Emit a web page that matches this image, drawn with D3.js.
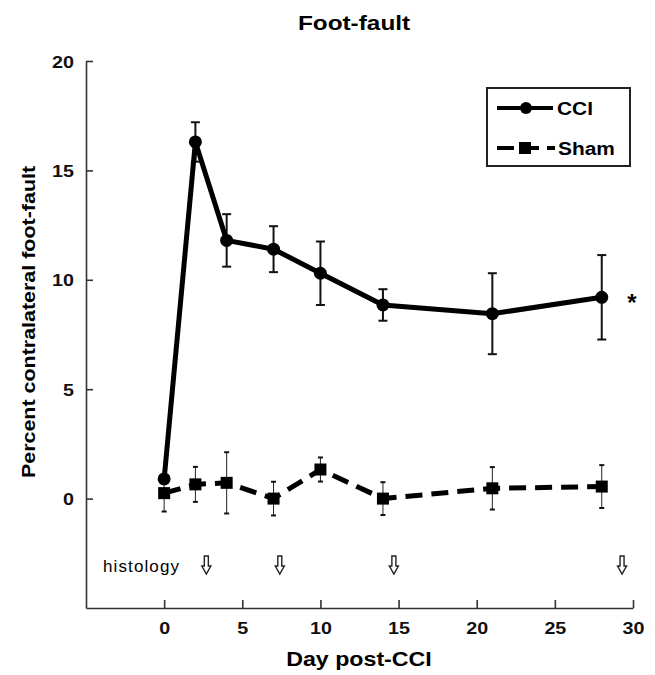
<!DOCTYPE html>
<html>
<head>
<meta charset="utf-8">
<script src="https://cdn.jsdelivr.net/npm/d3@7"></script>
<style>
  body { margin: 0; background: #fff; }
  text { font-family: "Liberation Sans", Arial, Helvetica, sans-serif; }
</style>
</head>
<body>
<div id="viz"><svg width="655" height="675"></svg></div>
<script>
// values
const days = [0, 2, 4, 7, 10, 14, 21, 28]
const cciMean = [0.9, 16.3, 11.8, 11.4, 10.3, 8.85, 8.45, 9.2]
const cciSem = [0, 0.9, 1.2, 1.05, 1.45, 0.72, 1.85, 1.93]
const shamMean = [0.25, 0.65, 0.72, 0.0, 1.33, 0.0, 0.47, 0.55]
const shamSem = [0.84, 0.8, 1.4, 0.77, 0.55, 0.75, 0.97, 0.98]
const histologyDays = [2.7, 7.4, 14.7, 29.3]
const xTicks = [0, 5, 10, 15, 20, 25, 30]
const yTicks = [0, 5, 10, 15, 20]

const cci = days.map((d, i) => ({day: d, mean: cciMean[i], sem: cciSem[i]}))
const sham = days.map((d, i) => ({day: d, mean: shamMean[i], sem: shamSem[i]}))

const SX = 1.16  // the original lettering is a bit wide
const svg = d3.select("#viz svg")

const x = d3.scaleLinear().domain([-5, 30]).range([86, 633])
const y = d3.scaleLinear().domain([-5, 20]).range([608, 61])

// axes
const yAxis = svg.append("g")
    .attr("transform", "translate(" + 86 + ",0)")
    .call(d3.axisLeft(y).tickValues(yTicks).tickSize(-7).tickSizeOuter(0))
const xAxis = svg.append("g")
    .attr("transform", "translate(0," + 608 + ")")
    .call(d3.axisBottom(x).tickValues(xTicks).tickSize(-8).tickSizeOuter(0))

svg.selectAll(".domain, .tick line").attr("stroke", "#333").attr("stroke-width", 1.6)
yAxis.selectAll(".tick text")
    .attr("x", 0).attr("dy", "0.36em")
    .attr("transform", "translate(-12,0) scale(" + SX + ",1)")
    .attr("font-size", 17).attr("font-weight", "bold").attr("fill", "#111")
xAxis.selectAll(".tick text")
    .attr("y", 0).attr("dy", 0)
    .attr("transform", "translate(0,26) scale(" + SX + ",1)")
    .attr("font-size", 17).attr("font-weight", "bold").attr("fill", "#111")

// titles
svg.append("text")
    .attr("transform", "translate(354,30) scale(" + SX + ",1)")
    .attr("text-anchor", "middle").attr("font-size", 21).attr("font-weight", "bold")
    .text("Foot-fault")
svg.append("text")
    .attr("transform", "translate(359,666) scale(" + SX + ",1)")
    .attr("text-anchor", "middle").attr("font-size", 20).attr("font-weight", "bold")
    .text("Day post-CCI")
svg.append("text")
    .attr("transform", "translate(35,322) rotate(-90) scale(" + SX + ",1)")
    .attr("text-anchor", "middle").attr("font-size", 18.5).attr("font-weight", "bold")
    .text("Percent contralateral foot-fault")

// histology markers
svg.append("text")
    .attr("x", 103).attr("y", 572)
    .attr("font-family", "'Open Sans', 'Noto Sans', sans-serif")
    .attr("font-size", 17).attr("textLength", 76)
    .text("histology")

svg.selectAll("path.arrow")
    .data(histologyDays)
    .enter()
    .append("path")
    .attr("class", "arrow")
    .attr("d", d => {
        const cx = x(d)
        return "M" + (cx - 2) + ",556 L" + (cx + 2) + ",556 L" + (cx + 2) + ",566 L" + (cx + 4.5) + ",566 L" +
            cx + ",574 L" + (cx - 4.5) + ",566 L" + (cx - 2) + ",566 Z"
    })
    .attr("fill", "#fff").attr("stroke", "#222").attr("stroke-width", 1.4)

// sham series
const shamG = svg.append("g")
shamG.selectAll("g.err")
    .data(sham)
    .enter()
    .append("g")
    .attr("class", "err")
    .each(function(d){
        const g = d3.select(this)
        g.append("line").attr("x1", x(d.day)).attr("x2", x(d.day))
            .attr("y1", y(d.mean + d.sem)).attr("y2", y(d.mean - d.sem))
            .attr("stroke", "#222").attr("stroke-width", 1)
        ;[d.mean + d.sem, d.mean - d.sem].forEach(v => {
            g.append("line").attr("x1", x(d.day) - 2.5).attr("x2", x(d.day) + 2.5)
                .attr("y1", y(v)).attr("y2", y(v))
                .attr("stroke", "#111").attr("stroke-width", 2)
        })
    })

shamG.append("path")
    .datum(sham)
    .attr("d", d3.line().x(d => x(d.day)).y(d => y(d.mean)))
    .attr("fill", "none").attr("stroke", "#000").attr("stroke-width", 5)
    .attr("stroke-dasharray", "17,9")

shamG.selectAll("rect")
    .data(sham)
    .enter()
    .append("rect")
    .attr("x", d => x(d.day) - 6).attr("y", d => y(d.mean) - 6)
    .attr("width", 12).attr("height", 12)
    .attr("fill", "#000")

// CCI series
const cciG = svg.append("g")
cciG.selectAll("g.err")
    .data(cci.filter(d => d.sem > 0))
    .enter()
    .append("g")
    .attr("class", "err")
    .each(function(d){
        const g = d3.select(this)
        g.append("line").attr("x1", x(d.day)).attr("x2", x(d.day))
            .attr("y1", y(d.mean + d.sem)).attr("y2", y(d.mean - d.sem))
            .attr("stroke", "#111").attr("stroke-width", 2)
        ;[d.mean + d.sem, d.mean - d.sem].forEach(v => {
            g.append("line").attr("x1", x(d.day) - 4.5).attr("x2", x(d.day) + 4.5)
                .attr("y1", y(v)).attr("y2", y(v))
                .attr("stroke", "#111").attr("stroke-width", 2)
        })
    })

cciG.append("path")
    .datum(cci)
    .attr("d", d3.line().x(d => x(d.day)).y(d => y(d.mean)))
    .attr("fill", "none").attr("stroke", "#000").attr("stroke-width", 5)
    .attr("stroke-linejoin", "round")

cciG.selectAll("circle")
    .data(cci)
    .enter()
    .append("circle")
    .attr("cx", d => x(d.day)).attr("cy", d => y(d.mean))
    .attr("r", 6.5).attr("fill", "#000")

// significance star
svg.append("text")
    .attr("x", 632).attr("y", 311)
    .attr("text-anchor", "middle").attr("font-size", 24).attr("font-weight", "bold")
    .text("*")

// legend
const legend = svg.append("g")
legend.append("rect")
    .attr("x", 487).attr("y", 88).attr("width", 143).attr("height", 78)
    .attr("fill", "#fff").attr("stroke", "#222").attr("stroke-width", 2)

legend.append("line")
    .attr("x1", 497).attr("x2", 553).attr("y1", 108).attr("y2", 108)
    .attr("stroke", "#000").attr("stroke-width", 4)
legend.append("circle").attr("cx", 526).attr("cy", 108).attr("r", 6).attr("fill", "#000")
legend.append("text")
    .attr("transform", "translate(557,115) scale(" + SX + ",1)")
    .attr("font-size", 18).attr("font-weight", "bold")
    .text("CCI")

legend.append("line")
    .attr("x1", 497).attr("x2", 555).attr("y1", 148).attr("y2", 148)
    .attr("stroke", "#000").attr("stroke-width", 4)
    .attr("stroke-dasharray", "17,8")
legend.append("rect").attr("x", 519).attr("y", 142).attr("width", 12).attr("height", 12).attr("fill", "#000")
legend.append("text")
    .attr("transform", "translate(558,155) scale(" + SX + ",1)")
    .attr("font-size", 18).attr("font-weight", "bold")
    .text("Sham")
</script>
</body>
</html>
